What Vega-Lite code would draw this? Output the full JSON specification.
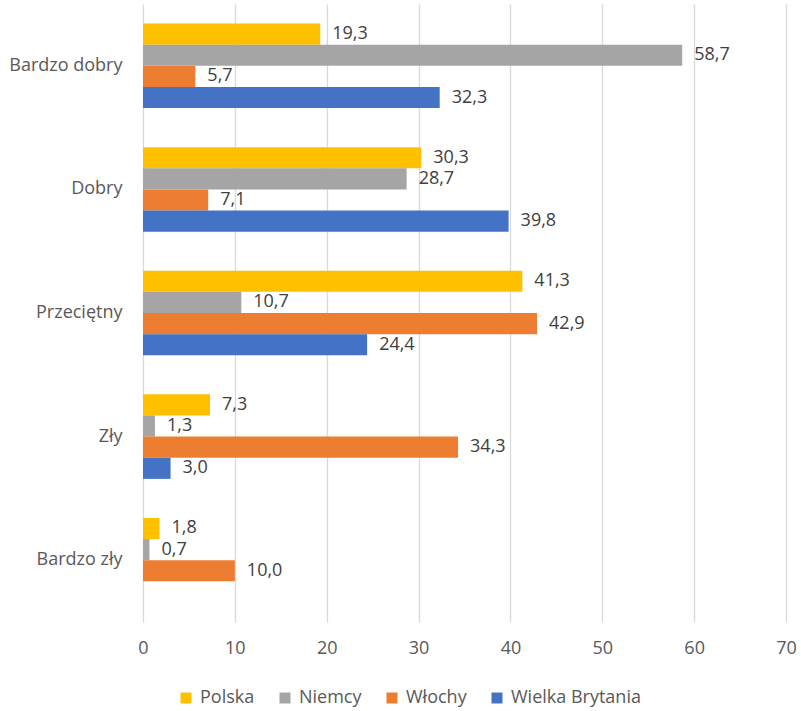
{
  "$schema": "https://vega.github.io/schema/vega-lite/v6.json",
  "width": 643,
  "height": 618,
  "autosize": {"type": "none"},
  "padding": {"left": 143, "top": 4, "right": 15, "bottom": 89},
  "background": "white",
  "data": {
    "values": [
      {"ocena": "Bardzo dobry", "kraj": "Polska", "v": 19.3},
      {"ocena": "Bardzo dobry", "kraj": "Niemcy", "v": 58.7},
      {"ocena": "Bardzo dobry", "kraj": "Włochy", "v": 5.7},
      {"ocena": "Bardzo dobry", "kraj": "Wielka Brytania", "v": 32.3},
      {"ocena": "Dobry", "kraj": "Polska", "v": 30.3},
      {"ocena": "Dobry", "kraj": "Niemcy", "v": 28.7},
      {"ocena": "Dobry", "kraj": "Włochy", "v": 7.1},
      {"ocena": "Dobry", "kraj": "Wielka Brytania", "v": 39.8},
      {"ocena": "Przeciętny", "kraj": "Polska", "v": 41.3},
      {"ocena": "Przeciętny", "kraj": "Niemcy", "v": 10.7},
      {"ocena": "Przeciętny", "kraj": "Włochy", "v": 42.9},
      {"ocena": "Przeciętny", "kraj": "Wielka Brytania", "v": 24.4},
      {"ocena": "Zły", "kraj": "Polska", "v": 7.3},
      {"ocena": "Zły", "kraj": "Niemcy", "v": 1.3},
      {"ocena": "Zły", "kraj": "Włochy", "v": 34.3},
      {"ocena": "Zły", "kraj": "Wielka Brytania", "v": 3.0},
      {"ocena": "Bardzo zły", "kraj": "Polska", "v": 1.8},
      {"ocena": "Bardzo zły", "kraj": "Niemcy", "v": 0.7},
      {"ocena": "Bardzo zły", "kraj": "Włochy", "v": 10.0}
    ]
  },
  "encoding": {
    "y": {
      "field": "ocena", "type": "nominal",
      "sort": ["Bardzo dobry", "Dobry", "Przeciętny", "Zły", "Bardzo zły"],
      "scale": {"paddingInner": 0.316, "paddingOuter": 0.158},
      "axis": {"title": null, "domain": false, "ticks": false, "labelPadding": 21, "labelFontSize": 18, "labelColor": "#595959", "labelFont": "Open Sans"}
    },
    "yOffset": {
      "field": "kraj", "type": "nominal",
      "sort": ["Polska", "Niemcy", "Włochy", "Wielka Brytania"],
      "scale": {"paddingInner": 0, "paddingOuter": 0}
    },
    "x": {
      "field": "v", "type": "quantitative",
      "scale": {"domain": [0, 70], "nice": false},
      "axis": {"title": null, "values": [0, 10, 20, 30, 40, 50, 60, 70], "domain": false, "ticks": false, "labelPadding": 17, "labelFontSize": 18, "labelColor": "#595959", "labelFont": "Open Sans", "gridColor": "#D9D9D9", "gridWidth": 1.3, "labelFlush": false}
    }
  },
  "layer": [
    {
      "mark": {"type": "bar"},
      "encoding": {
        "color": {
          "field": "kraj", "type": "nominal",
          "sort": ["Polska", "Niemcy", "Włochy", "Wielka Brytania"],
          "scale": {"domain": ["Polska", "Niemcy", "Włochy", "Wielka Brytania"], "range": ["#FFC000", "#A5A5A5", "#ED7D31", "#4472C4"]},
          "legend": {
            "title": null, "orient": "none", "direction": "horizontal",
            "legendX": 34, "legendY": 685,
            "symbolType": "square", "symbolSize": 121, "symbolStrokeWidth": 0,
            "labelFontSize": 18, "labelColor": "#595959", "labelFont": "Open Sans",
            "columnPadding": 21, "labelOffset": 5
          }
        }
      }
    },
    {
      "mark": {"type": "text", "align": "left", "baseline": "middle", "dx": 12, "fontSize": 18, "font": "Open Sans", "color": "#404040"},
      "encoding": {
        "text": {"field": "v", "type": "quantitative", "format": ".1f"}
      }
    }
  ],
  "config": {
    "view": {"stroke": null},
    "locale": {"number": {"decimal": ",", "thousands": " ", "grouping": [3], "currency": ["", " zł"]}}
  }
}
